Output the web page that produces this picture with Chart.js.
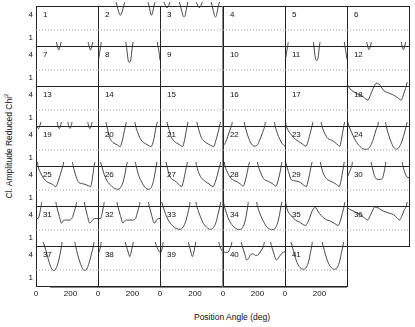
<!DOCTYPE html>
<html><head><meta charset="utf-8">
<script src="https://cdn.jsdelivr.net/npm/chart.js@4/dist/chart.umd.min.js"></script>
<style>
html,body{margin:0;padding:0;background:#fff;}
#wrap{position:relative;width:415px;height:327px;overflow:hidden;font-family:"Liberation Sans",Arial,sans-serif;}
#wrap canvas{position:absolute;}
.t{position:absolute;color:#111;font-size:8.5px;white-space:nowrap;line-height:1;}
#ylab{left:8px;top:146px;transform:translate(-50%,-50%) rotate(-90deg);}
#xlab{left:232px;top:317px;transform:translate(-50%,-50%);}
.deco{position:absolute;background:#888;}
</style></head><body><div id="wrap">
<div class="t" id="ylab">Cl. Amplitude Reduced Chi<sup style="font-size:6px">2</sup></div>
<div class="t" id="xlab">Position Angle (deg)</div>
</div>
<script>
// ---- tick labels / reference level ----
const yTickValues = [1, 4];
const xTickValues = [0, 200];
const refLevel = 2;

// ---- panel curves: [position angle (deg), reduced chi^2] ----
const p1 = [];
const p2 = [[95,6],[105,5.6],[115,4.8],[124,4.1],[130,3.96],[136,4.1],[145,4.8],[155,5.6],[165,6],[280,6],[290,5.6],[300,4.8],[306,4.1],[310,3.96],[315,4.1],[322,4.8],[330,5.6],[340,6]];
const p3 = [[15,6],[25,5.5],[35,5.0],[40,4.9],[45,5.0],[55,5.5],[65,6],[105,6],[115,5.3],[125,4.4],[133,3.8],[137,3.74],[142,3.8],[148,4.4],[156,5.3],[165,6],[195,6],[212,5.4],[222,4.95],[228,4.95],[238,5.4],[250,6],[285,6],[296,5.3],[306,4.4],[313,3.8],[317,3.74],[321,3.8],[327,4.4],[335,5.3],[345,6]];
const p4 = [];
const p5 = [];
const p6 = [];
const p7 = [[115,6],[122,5.3],[128,4.8],[132,4.6],[136,4.8],[142,5.3],[150,6],[298,6],[306,5.3],[312,4.8],[316,4.6],[320,4.8],[326,5.3],[334,6]];
const p8 = [[0,3.3],[5,3.6],[10,4.3],[16,5.2],[22,6],[155,6],[165,5.1],[170,4.2],[175,3.3],[182,3.0],[190,3.3],[195,4.2],[200,5.1],[208,6],[340,6],[348,5.1],[354,4.4],[360,3.3]];
const p9 = [];
const p10 = [];
const p11 = [[0,3.4],[5,3.7],[10,4.4],[16,5.2],[22,6],[160,6],[168,5.1],[173,4.1],[178,3.4],[184,3.25],[190,3.4],[195,4.1],[200,5.1],[208,6],[340,6],[348,5.1],[354,4.3],[360,3.4]];
const p12 = [[110,6],[118,5.3],[124,4.8],[128,4.65],[132,4.8],[138,5.3],[146,6],[310,6],[318,5.3],[323,4.8],[327,4.65],[331,4.8],[337,5.3],[345,6]];
const p13 = [];
const p14 = [];
const p15 = [];
const p16 = [];
const p17 = [];
const p18 = [[0,5.5],[10,5.0],[25,4.6],[45,4.3],[70,4.0],[95,3.7],[110,3.4],[122,3.3],[135,3.9],[148,4.6],[158,5.1],[170,5.5],[185,5.4],[199,5.0],[215,4.5],[235,4.3],[255,4.1],[275,3.9],[295,3.6],[315,3.3],[325,3.8],[335,4.5],[344,5.1],[352,6]];
const p19 = [[0,5.2],[8,4.95],[15,4.8],[20,5.0],[28,5.6],[36,6],[118,6],[126,5.3],[131,4.9],[135,4.8],[139,4.9],[144,5.3],[152,6],[180,6],[188,5.3],[193,4.9],[197,4.85],[201,4.9],[206,5.3],[214,6],[296,6],[304,5.3],[309,4.9],[313,4.8],[317,4.9],[322,5.3],[330,6]];
const p20 = [[40,6],[52,5.1],[60,4.2],[68,3.6],[87,3.0],[110,2.7],[129,2.45],[137,2.9],[145,3.6],[153,4.5],[162,5.4],[170,6],[210,6],[220,5.0],[232,4.2],[251,3.3],[270,2.9],[290,2.65],[309,2.45],[318,2.9],[326,3.6],[333,4.5],[340,5.3],[350,6]];
const p21 = [[35,6],[46,5.1],[56,4.3],[66,3.6],[80,3.2],[95,2.9],[112,2.7],[129,2.45],[136,2.9],[143,3.6],[150,4.5],[158,5.4],[165,6],[205,6],[216,5.1],[226,4.3],[239,3.5],[255,3.1],[268,2.9],[290,2.6],[307,2.45],[316,3.0],[326,3.8],[335,4.6],[343,5.4],[350,6]];
const p22 = [[0,2.5],[15,3.0],[28,3.8],[40,4.6],[50,5.2],[58,6],[118,6],[128,5.1],[138,4.3],[150,3.5],[165,2.8],[183,2.5],[200,2.7],[215,3.4],[230,4.3],[242,5.1],[250,6],[295,6],[303,5.1],[315,4.2],[330,3.4],[345,2.8],[360,2.5]];
const p23 = [[0,6],[8,5.1],[20,4.5],[40,3.9],[60,3.4],[80,3.1],[100,2.8],[122,2.5],[132,3.0],[142,3.8],[152,4.7],[160,5.4],[168,6],[205,6],[215,5.1],[230,4.2],[250,3.5],[270,3.3],[290,3.0],[310,2.6],[318,2.5],[326,3.2],[334,4.2],[342,5.2],[350,6]];
const p24 = [[0,6],[12,5.1],[25,4.4],[45,3.4],[70,2.6],[95,2.15],[112,2.1],[125,2.2],[140,2.7],[155,3.6],[168,4.6],[179,5.2],[186,6],[220,6],[228,5.1],[240,4.1],[255,3.1],[270,2.4],[286,2.1],[300,2.3],[315,2.9],[328,3.8],[338,4.6],[345,5.2],[352,6]];
const p25 = [[5,6],[13,5.0],[25,4.3],[45,3.5],[62,3.1],[80,2.9],[95,2.75],[116,2.45],[125,2.9],[138,3.8],[150,4.7],[158,5.3],[165,6],[208,6],[216,5.1],[228,4.1],[245,3.1],[265,2.85],[284,2.75],[305,2.55],[317,2.45],[325,3.2],[332,4.3],[338,5.2],[345,6]];
const p26 = [[10,6],[22,5.1],[35,4.1],[50,3.3],[70,2.7],[90,2.3],[112,2.1],[130,2.3],[145,3.0],[155,3.9],[163,4.9],[168,5.4],[175,6],[212,6],[222,5.1],[235,4.0],[250,3.2],[268,2.5],[290,2.1],[308,2.3],[320,3.0],[330,4.1],[338,5.1],[345,6]];
const p27 = [[30,6],[40,5.1],[50,4.2],[65,3.5],[85,3.2],[105,2.8],[124,2.45],[132,3.0],[140,3.8],[147,4.6],[154,5.3],[160,6],[200,6],[210,5.1],[222,4.2],[240,3.5],[260,3.1],[280,2.8],[303,2.45],[315,3.0],[327,3.9],[337,4.8],[343,5.3],[350,6]];
const p28 = [[5,6],[12,5.1],[22,4.5],[40,3.7],[60,3.3],[80,3.1],[100,2.8],[118,2.5],[128,3.1],[138,4.0],[146,4.9],[152,5.5],[158,6],[195,6],[205,5.1],[218,4.3],[235,3.5],[255,3.2],[275,3.0],[295,2.7],[308,2.5],[318,3.1],[328,4.0],[337,5.0],[343,6]];
const p29 = [[0,6],[10,5.1],[20,4.4],[35,3.4],[55,3.2],[80,3.1],[100,2.8],[124,2.45],[133,3.1],[142,4.0],[150,4.9],[156,5.5],[162,6],[200,6],[210,5.1],[222,4.2],[240,3.5],[260,3.2],[280,3.0],[300,2.7],[315,2.45],[324,3.1],[332,4.1],[340,5.1],[346,6]];
const p30 = [[0,3.6],[10,4.1],[20,4.7],[28,5.2],[35,6],[135,6],[145,5.1],[155,4.2],[165,3.6],[180,3.4],[195,3.4],[207,3.6],[215,4.3],[222,5.1],[230,6],[315,6],[325,5.1],[335,4.3],[348,3.7],[360,3.6]];
const p31 = [[0,3.5],[12,3.5],[22,4.2],[30,5.2],[38,6],[110,6],[120,5.1],[135,3.8],[148,2.9],[158,3.2],[175,3.3],[195,3.3],[210,3.6],[222,4.4],[232,5.2],[240,6],[275,6],[285,5.1],[298,3.9],[312,2.9],[325,3.2],[340,3.5],[360,3.5]];
const p32 = [[0,3.5],[15,3.5],[25,4.3],[33,5.2],[40,6],[105,6],[115,5.1],[130,3.9],[145,2.9],[155,3.2],[175,3.3],[200,3.3],[218,3.5],[230,4.4],[240,5.2],[248,6],[288,6],[298,5.1],[312,3.9],[327,2.9],[340,3.3],[352,3.5],[360,3.5]];
const p33 = [[5,6],[17,5.1],[30,4.2],[50,3.2],[70,2.6],[92,2.2],[114,2.1],[132,2.4],[148,3.2],[160,4.3],[168,5.1],[175,6],[200,6],[210,5.1],[225,4.1],[245,3.0],[265,2.4],[288,2.1],[305,2.3],[320,3.0],[332,4.1],[342,5.1],[350,6]];
const p34 = [[0,6],[8,5.1],[20,4.2],[35,3.3],[55,2.6],[75,2.2],[92,2.05],[110,2.2],[125,2.9],[135,3.9],[143,5.0],[150,6],[190,6],[200,5.1],[215,4.1],[235,3.1],[255,2.4],[275,2.1],[290,2.05],[305,2.3],[318,3.0],[328,4.0],[337,5.1],[345,6]];
const p35 = [[0,6],[8,5.1],[20,4.3],[40,3.8],[60,3.3],[80,3.1],[100,2.8],[120,2.6],[132,3.0],[145,3.7],[158,4.5],[170,4.9],[180,4.9],[190,4.5],[210,3.9],[235,3.4],[260,3.2],[285,2.9],[308,2.6],[320,3.1],[332,4.1],[343,5.1],[350,6]];
const p36 = [[0,5.0],[15,4.7],[35,4.5],[60,4.2],[85,3.9],[105,3.5],[120,3.3],[135,3.9],[150,4.6],[160,5.0],[180,4.9],[200,4.6],[220,4.4],[245,4.2],[270,4.0],[290,3.6],[305,3.3],[318,3.8],[332,4.6],[344,5.1],[352,6]];
const p37 = [[35,6],[50,5.1],[62,4.2],[75,3.1],[88,2.3],[104,1.92],[118,2.3],[130,3.1],[140,4.1],[148,5.1],[155,6],[220,6],[230,5.1],[242,4.0],[257,2.9],[270,2.2],[284,1.92],[298,2.3],[312,3.2],[324,4.3],[333,5.1],[340,6]];
const p38 = [[0,4.5],[5,4.3],[10,4.6],[15,5.1],[22,6],[150,6],[165,5.1],[177,4.2],[184,3.75],[191,4.2],[200,5.1],[210,6],[325,6],[340,5.1],[352,4.5],[360,4.3]];
const p39 = [[0,4.4],[5,4.3],[10,4.6],[15,5.2],[22,6],[155,6],[168,5.1],[178,4.2],[185,3.75],[192,4.2],[200,5.1],[210,6],[330,6],[342,5.1],[352,4.6],[360,4.4]];
const p40 = [[0,4.4],[15,4.3],[28,4.3],[40,4.8],[48,5.2],[55,6],[100,6],[112,5.1],[125,4.2],[138,3.3],[148,3.5],[160,4.0],[175,4.1],[190,3.9],[205,4.0],[220,4.5],[235,5.1],[245,6],[270,6],[282,5.1],[295,4.2],[310,3.3],[322,3.6],[335,4.0],[348,4.3],[360,4.4]];
const p41 = [[30,6],[42,5.1],[55,4.0],[70,3.0],[88,2.3],[108,2.1],[125,2.4],[138,3.2],[148,4.3],[155,5.1],[162,6],[210,6],[222,5.1],[235,4.0],[252,2.9],[270,2.3],[289,2.1],[305,2.4],[318,3.2],[328,4.3],[336,5.1],[342,6]];

const panels = [p1,p2,p3,p4,p5,p6,p7,p8,p9,p10,p11,p12,p13,p14,p15,p16,p17,p18,p19,p20,
  p21,p22,p23,p24,p25,p26,p27,p28,p29,p30,p31,p32,p33,p34,p35,p36,p37,p38,p39,p40,p41];

// ---- layout ----
const colEdges = [36,98,160,223,285,347,409];
const rowTop0 = 6, rowH = 40, nCols = 6;
const PAD = {left:14, top:8, right:2, bottom:14};
const Y_MIN = -0.08, Y_MAX = 5.135, X_MIN = 0, X_MAX = 360;
const FONT = '8px "Liberation Sans", Arial, sans-serif';

const decor = {
  id: 'decor',
  beforeDatasetsDraw(chart, args, o) {
    const ca = chart.chartArea, ctx = chart.ctx;
    ctx.save();
    ctx.strokeStyle = '#222';
    ctx.lineWidth = 1;
    ctx.strokeRect(ca.left + 0.5, ca.top + 0.5, ca.right - ca.left, ca.bottom - ca.top);
    ctx.restore();
  },
  afterDatasetsDraw(chart, args, o) {
    const ctx = chart.ctx, xs = chart.scales.x, ys = chart.scales.y, ca = chart.chartArea;
    ctx.save();
    ctx.font = FONT;
    ctx.fillStyle = '#111';
    ctx.textBaseline = 'middle';
    ctx.textAlign = 'left';
    ctx.fillText(String(o.num), xs.getPixelForValue(40), ys.getPixelForValue(4));
    if (o.showY) {
      ctx.textAlign = 'right';
      yTickValues.forEach(v => ctx.fillText(String(v), ca.left - 3, ys.getPixelForValue(v)));
    }
    if (o.showX) {
      ctx.textAlign = 'center';
      xTickValues.forEach(v => ctx.fillText(String(v), xs.getPixelForValue(v), ca.bottom + 8));
    }
    ctx.restore();
  }
};

const wrap = document.getElementById('wrap');
panels.forEach((pts, i) => {
  const r = Math.floor(i / nCols), c = i % nCols;
  const boxW = colEdges[c+1] - colEdges[c];
  const cv = document.createElement('canvas');
  const W = boxW + PAD.left + PAD.right, H = rowH + PAD.top + PAD.bottom;
  cv.width = W; cv.height = H;
  cv.style.width = W + 'px'; cv.style.height = H + 'px';
  cv.style.left = (colEdges[c] - PAD.left) + 'px';
  cv.style.top = (rowTop0 + r*rowH - PAD.top) + 'px';
  wrap.appendChild(cv);
  const isBottom = i >= panels.length - 5;
  new Chart(cv, {
    type: 'line',
    data: {
      datasets: [
        { data: [{x:X_MIN, y:refLevel}, {x:X_MAX, y:refLevel}], borderColor: '#a0a0a0', borderWidth: 1,
          borderDash: [1, 2], pointRadius: 0, clip: 0 },
        { data: pts.map(p => ({x:p[0], y:p[1]})), borderColor: '#333', borderWidth: 0.9,
          pointRadius: 0, cubicInterpolationMode: 'monotone', clip: {left:0, top:4, right:0, bottom:0} }
      ]
    },
    options: {
      responsive: false, animation: false, devicePixelRatio: 1,
      layout: { padding: PAD },
      scales: {
        x: { type: 'linear', min: X_MIN, max: X_MAX, display: false },
        y: { type: 'linear', min: Y_MIN, max: Y_MAX, display: false }
      },
      plugins: { legend: {display:false}, tooltip: {enabled:false},
        decor: { num: i + 1, showY: c === 0, showX: isBottom } },
      events: []
    },
    plugins: [decor]
  });
});
// decorative extra frame lines seen in the reference
const l1 = document.createElement('div'); l1.className='deco';
l1.style.cssText += 'left:50px;top:287px;width:297px;height:1px;';
wrap.appendChild(l1);
const l2 = document.createElement('div'); l2.className='deco';
l2.style.cssText += 'left:222px;top:6px;width:1px;height:281px;';
wrap.appendChild(l2);
</script>
</body></html>
